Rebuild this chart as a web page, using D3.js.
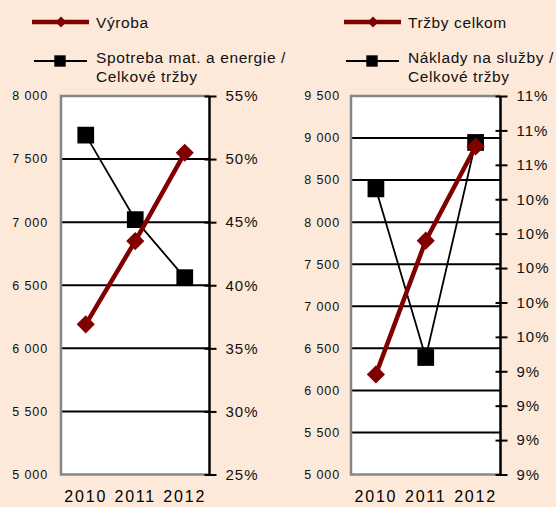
<!DOCTYPE html>
<html>
<head>
<meta charset="utf-8">
<script src="https://cdn.jsdelivr.net/npm/d3@7"></script>
<style>
  body { margin: 0; background: #fde9d9; }
  svg { display: block; font-family: "Liberation Sans", Arial, sans-serif; }
</style>
</head>
<body>
<svg id="chart" width="556" height="507"></svg>
<script>
// data
const years = ['2010', '2011', '2012'];
const vyroba = [6190, 6850, 7550];
const spotrebaPct = [51.9, 45.2, 40.6];
const trzby = [6190, 7780, 8900];
const nakladyPct = [10.46, 9.48, 10.73];

const leftTicksA = [5000, 5500, 6000, 6500, 7000, 7500, 8000];
const pctTicksA = [25, 30, 35, 40, 45, 50, 55];
const leftTicksB = [5000, 5500, 6000, 6500, 7000, 7500, 8000, 8500, 9000, 9500];
const pctTicksB = [8.8, 9.0, 9.2, 9.4, 9.6, 9.8, 10.0, 10.2, 10.4, 10.6, 10.8, 11.0];

const RED = '#800000';
const GRAY = '#868686';

const sk = d3.formatLocale({ decimal: ',', thousands: ' ', grouping: [3], currency: ['', ''] });
const fmtNum = sk.format(',d');

const svg = d3.select('#chart');

function drawPanel(opt) {
  const g = svg.append('g');
  const x = d3.scalePoint().domain(years).range([opt.x0, opt.x1]).padding(0.5);
  const y = d3.scaleLinear().domain(opt.leftDomain).range([opt.y1, opt.y0]);
  const y2 = d3.scaleLinear().domain(opt.rightDomain).range([opt.y1, opt.y0]);

  // plot background
  g.append('rect')
    .attr('x', opt.x0).attr('y', opt.y0)
    .attr('width', opt.x1 - opt.x0).attr('height', opt.y1 - opt.y0)
    .attr('fill', '#fff');

  // gridlines
  g.selectAll('line.grid')
    .data(opt.leftTicks.slice(1, -1))
    .join('line')
    .attr('class', 'grid')
    .attr('x1', opt.x0).attr('x2', opt.x1)
    .attr('y1', d => y(d)).attr('y2', d => y(d))
    .attr('stroke', '#000').attr('stroke-width', 2);

  // gray frame left/top/bottom
  g.append('path')
    .attr('d', `M${opt.x1},${opt.y0}H${opt.x0}V${opt.y1}H${opt.x1}`)
    .attr('fill', 'none').attr('stroke', GRAY).attr('stroke-width', 2.5);

  // left tick labels
  g.selectAll('text.yl')
    .data(opt.leftTicks)
    .join('text')
    .attr('class', 'yl')
    .attr('x', opt.x0 - opt.leftPad).attr('y', d => y(d))
    .attr('dy', '0.35em')
    .attr('text-anchor', 'end')
    .attr('font-size', 12.5).attr('letter-spacing', 0.9)
    .attr('fill', '#111')
    .text(d => fmtNum(d));

  // right axis
  const rAxis = d3.axisRight(y2)
    .tickValues(opt.rightTicks)
    .tickSize(7)
    .tickPadding(9)
    .tickFormat(d => Math.round(d) + '%');
  const ra = g.append('g')
    .attr('transform', `translate(${opt.x1},0)`)
    .call(rAxis);
  ra.select('.domain').attr('stroke', '#000').attr('stroke-width', 2.5)
    .attr('d', `M0,${opt.y0}V${opt.y1}`);
  ra.selectAll('.tick line').attr('stroke', '#000').attr('stroke-width', 2)
    .attr('x1', -5);
  ra.selectAll('.tick text')
    .attr('font-size', 15).attr('letter-spacing', 1)
    .attr('fill', '#111')
    .attr('font-family', '"Liberation Sans", Arial, sans-serif');

  // x labels
  g.selectAll('text.xl')
    .data(years)
    .join('text')
    .attr('class', 'xl')
    .attr('x', d => x(d)).attr('y', 502)
    .attr('text-anchor', 'middle')
    .attr('font-size', 16).attr('letter-spacing', 1.8)
    .attr('fill', '#000')
    .text(d => d);

  // black series (right axis)
  g.append('path')
    .datum(opt.pct)
    .attr('fill', 'none').attr('stroke', '#000').attr('stroke-width', 1.8)
    .attr('d', d3.line().x((d, i) => x(years[i])).y(d => y2(d)));
  g.selectAll('path.sq')
    .data(opt.pct)
    .join('path')
    .attr('class', 'sq')
    .attr('transform', (d, i) => `translate(${x(years[i])},${y2(d)})`)
    .attr('d', d3.symbol(d3.symbolSquare, 280))
    .attr('fill', '#000');

  // red series (left axis)
  g.append('path')
    .datum(opt.vals)
    .attr('fill', 'none').attr('stroke', RED).attr('stroke-width', 4.5)
    .attr('d', d3.line().x((d, i) => x(years[i])).y(d => y(d)));
  g.selectAll('path.dm')
    .data(opt.vals)
    .join('path')
    .attr('class', 'dm')
    .attr('transform', (d, i) => `translate(${x(years[i])},${y(d)}) rotate(45)`)
    .attr('d', d3.symbol(d3.symbolSquare, 165))
    .attr('fill', RED);

  // legend
  const lg = g.append('g');
  lg.append('line')
    .attr('x1', opt.legX).attr('x2', opt.legX + 57)
    .attr('y1', 22).attr('y2', 22)
    .attr('stroke', RED).attr('stroke-width', 4.5);
  lg.append('path')
    .attr('transform', `translate(${opt.legX + 29},22) rotate(45)`)
    .attr('d', d3.symbol(d3.symbolSquare, 60))
    .attr('fill', RED);
  lg.append('text')
    .attr('x', opt.legX + 64).attr('y', 28)
    .attr('font-size', 15.5).attr('letter-spacing', 0.6).attr('fill', '#111')
    .text(opt.redLabel);

  lg.append('line')
    .attr('x1', opt.legX + 2).attr('x2', opt.legX + 55)
    .attr('y1', 61).attr('y2', 61)
    .attr('stroke', '#000').attr('stroke-width', 2);
  lg.append('path')
    .attr('transform', `translate(${opt.legX + 28},61)`)
    .attr('d', d3.symbol(d3.symbolSquare, 130))
    .attr('fill', '#000');
  lg.append('text')
    .attr('font-size', 15.5).attr('letter-spacing', 0.6).attr('fill', '#111')
    .selectAll('tspan')
    .data(opt.blackLabel)
    .join('tspan')
    .attr('x', opt.legX + 64)
    .attr('y', (d, i) => 62.5 + i * 19)
    .text(d => d);
}

drawPanel({
  x0: 61, x1: 209.5, y0: 96, y1: 474.5, leftPad: 13,
  leftDomain: [5000, 8000], rightDomain: [25, 55],
  leftTicks: leftTicksA, rightTicks: pctTicksA,
  vals: vyroba, pct: spotrebaPct,
  legX: 32,
  redLabel: 'Výroba',
  blackLabel: ['Spotreba mat. a energie /', 'Celkové tržby']
});

drawPanel({
  x0: 351, x1: 500.5, y0: 96, y1: 474.5, leftPad: 11,
  leftDomain: [5000, 9500], rightDomain: [8.8, 11.0],
  leftTicks: leftTicksB, rightTicks: pctTicksB,
  vals: trzby, pct: nakladyPct,
  legX: 344,
  redLabel: 'Tržby celkom',
  blackLabel: ['Náklady na služby /', 'Celkové tržby']
});
</script>
</body>
</html>
